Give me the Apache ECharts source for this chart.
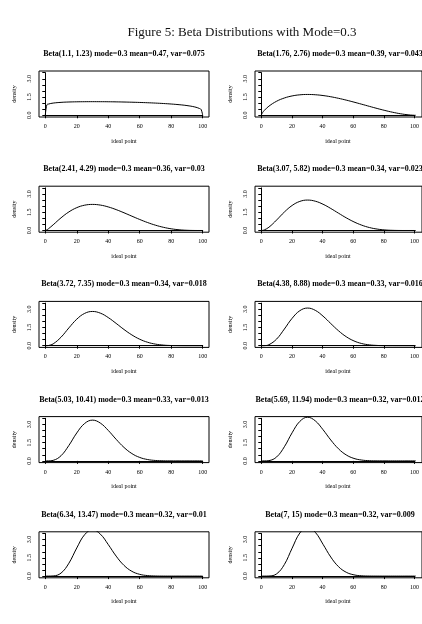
<!DOCTYPE html>
<html>
<head>
<meta charset="utf-8">
<title>Beta Distributions with Mode=0.3</title>
<script src="https://cdn.jsdelivr.net/npm/echarts@6/dist/echarts.min.js"></script>
<style>
html, body { margin: 0; padding: 0; background: #fff; }
#main { width: 422px; height: 624px; }
</style>
</head>
<body>
<div id="main"></div>
<script>
// ideal point (x axis), same sampling for every panel
var xPoints = [0, 1, 2, 5, 10, 15, 20, 25, 30, 35, 40, 45, 50, 55, 60, 65, 70, 75, 80, 85, 90, 95, 98, 99, 100];

// density
var dens1 = [0, 0.863, 0.923, 1.004, 1.063, 1.093, 1.109, 1.117, 1.120, 1.118, 1.113, 1.104, 1.091, 1.075, 1.056, 1.032, 1.003, 0.969, 0.926, 0.872, 0.799, 0.685, 0.557, 0.475, 0];
var dens2 = [0, 0.238, 0.395, 0.751, 1.156, 1.422, 1.591, 1.683, 1.712, 1.689, 1.624, 1.524, 1.396, 1.247, 1.083, 0.910, 0.734, 0.561, 0.398, 0.251, 0.128, 0.040, 0.008, 0.002, 0];
var dens3 = [0, 0.055, 0.142, 0.468, 1.041, 1.528, 1.878, 2.080, 2.143, 2.088, 1.937, 1.717, 1.456, 1.178, 0.904, 0.652, 0.436, 0.264, 0.139, 0.059, 0.017, 0.002, 0, 0, 0];
var dens4 = [0, 0.012, 0.047, 0.267, 0.864, 1.518, 2.056, 2.391, 2.500, 2.407, 2.158, 1.810, 1.422, 1.042, 0.708, 0.439, 0.243, 0.117, 0.045, 0.013, 0.002, 0, 0, 0, 0];
var dens5 = [0, 0.002, 0.015, 0.150, 0.699, 1.465, 2.180, 2.655, 2.813, 2.673, 2.311, 1.833, 1.332, 0.885, 0.531, 0.282, 0.130, 0.049, 0.014, 0.003, 0, 0, 0, 0, 0];
var dens6 = [0, 0.001, 0.005, 0.080, 0.547, 1.372, 2.251, 2.877, 3.093, 2.905, 2.428, 1.821, 1.227, 0.738, 0.392, 0.179, 0.068, 0.021, 0.004, 0.001, 0, 0, 0, 0, 0];
var dens7 = [0, 0, 0.001, 0.043, 0.426, 1.275, 2.297, 3.076, 3.350, 3.105, 2.503, 1.775, 1.107, 0.603, 0.283, 0.111, 0.035, 0.008, 0.001, 0, 0, 0, 0, 0, 0];
var dens8 = [0, 0, 0, 0.023, 0.325, 1.163, 2.311, 3.247, 3.590, 3.288, 2.562, 1.719, 0.993, 0.490, 0.203, 0.069, 0.018, 0.003, 0.001, 0, 0, 0, 0, 0, 0];
var dens9 = [0, 0, 0, 0.012, 0.248, 1.060, 2.313, 3.405, 3.813, 3.447, 2.592, 1.643, 0.879, 0.393, 0.144, 0.042, 0.009, 0.001, 0, 0, 0, 0, 0, 0, 0];
var dens10 = [0, 0, 0, 0.006, 0.186, 0.953, 2.292, 3.541, 4.025, 3.597, 2.613, 1.567, 0.777, 0.315, 0.102, 0.025, 0.005, 0.001, 0, 0, 0, 0, 0, 0, 0];

var panelTitles = [
  "Beta(1.1, 1.23) mode=0.3 mean=0.47, var=0.075",
  "Beta(1.76, 2.76) mode=0.3 mean=0.39, var=0.043",
  "Beta(2.41, 4.29) mode=0.3 mean=0.36, var=0.03",
  "Beta(3.07, 5.82) mode=0.3 mean=0.34, var=0.023",
  "Beta(3.72, 7.35) mode=0.3 mean=0.34, var=0.018",
  "Beta(4.38, 8.88) mode=0.3 mean=0.33, var=0.016",
  "Beta(5.03, 10.41) mode=0.3 mean=0.33, var=0.013",
  "Beta(5.69, 11.94) mode=0.3 mean=0.32, var=0.012",
  "Beta(6.34, 13.47) mode=0.3 mean=0.32, var=0.01",
  "Beta(7, 15) mode=0.3 mean=0.32, var=0.009"
];
var yTickLabels = [0, 1.5, 3];

var densities = [dens1, dens2, dens3, dens4, dens5, dens6, dens7, dens8, dens9, dens10];

var chart = echarts.init(document.getElementById("main"));

// panel box geometry (R style: axis range padded by 4%)
var colLeft = [39, 255];
var boxW = 170, boxH = 46;
var rowTop = 71, rowStep = 115.2;
var xUsr = [-4, 104], yUsr = [-0.14, 3.64];
var serif = "'Liberation Serif', 'Times New Roman', serif";

var grids = [], xAxes = [], yAxes = [], series = [];
var titles = [{
  text: "Figure 5: Beta Distributions with Mode=0.3",
  left: 242, top: 26, textAlign: "center", padding: 0,
  textStyle: { fontFamily: serif, fontSize: 13, fontWeight: "normal", color: "#111" }
}];

densities.forEach(function (d, i) {
  var left = colLeft[i % 2];
  var top = rowTop + Math.floor(i / 2) * rowStep;
  var pxX = boxW / (xUsr[1] - xUsr[0]);
  var pxY = boxH / (yUsr[1] - yUsr[0]);
  var inLeft = left + (0 - xUsr[0]) * pxX;
  var inTop = top + (yUsr[1] - 3.5) * pxY;

  titles.push({
    text: panelTitles[i],
    left: left + boxW / 2, top: top - 21, textAlign: "center", padding: 0,
    textStyle: { fontFamily: serif, fontSize: 8, fontWeight: "bold", color: "#000" }
  });

  // box grid holding the curve
  grids.push({ left: left, top: top, width: boxW, height: boxH, show: true,
    borderColor: "#000", borderWidth: 1, backgroundColor: "transparent" });
  // inner grid carrying the axes (0..100, 0..3.5)
  grids.push({ left: inLeft, top: inTop, width: 100 * pxX, height: 3.5 * pxY, show: false });

  xAxes.push({ gridIndex: 2 * i, type: "value", min: xUsr[0], max: xUsr[1], show: false });
  xAxes.push({
    gridIndex: 2 * i + 1, type: "value", min: 0, max: 100, interval: 20,
    offset: (yUsr[1] - 3.5) * 0 + (0 - yUsr[0]) * pxY + 2,
    name: "ideal point", nameLocation: "middle", nameGap: 19,
    nameTextStyle: { fontFamily: serif, fontSize: 6, color: "#000" },
    axisLine: { show: true, lineStyle: { color: "#000", width: 1 } },
    axisTick: { show: true, length: 3, lineStyle: { color: "#000", width: 1 } },
    axisLabel: { margin: 4.5, fontFamily: serif, fontSize: 6, color: "#000" },
    splitLine: { show: false }
  });

  yAxes.push({ gridIndex: 2 * i, type: "value", min: yUsr[0], max: yUsr[1], show: false });
  yAxes.push({
    gridIndex: 2 * i + 1, type: "value", min: 0, max: 3.5, interval: 0.5,
    offset: (0 - xUsr[0]) * pxX + 4,
    name: "density", nameLocation: "middle", nameGap: 18,
    nameTextStyle: { fontFamily: serif, fontSize: 6, color: "#000" },
    axisLine: { show: true, lineStyle: { color: "#000", width: 1 } },
    axisTick: { show: true, length: 3, lineStyle: { color: "#000", width: 1 } },
    axisLabel: {
      margin: 2.5, rotate: 90, fontFamily: serif, fontSize: 6, color: "#000",
      formatter: function (v) {
        return yTickLabels.indexOf(v) >= 0 ? v.toFixed(1) : "";
      }
    },
    splitLine: { show: false }
  });

  series.push({
    type: "line",
    xAxisIndex: 2 * i, yAxisIndex: 2 * i,
    data: xPoints.map(function (x, k) { return [x, d[k]]; }),
    showSymbol: false, smooth: 0.4, clip: true, silent: true,
    lineStyle: { color: "#000", width: 1 }
  });
});

chart.setOption({
  backgroundColor: "#fff",
  animation: false,
  title: titles,
  grid: grids,
  xAxis: xAxes,
  yAxis: yAxes,
  series: series
});
</script>
</body>
</html>
